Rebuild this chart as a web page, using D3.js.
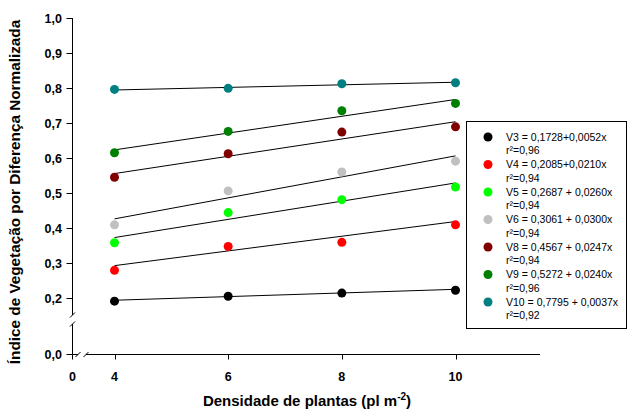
<!DOCTYPE html>
<html>
<head>
<meta charset="utf-8">
<script src="https://cdn.jsdelivr.net/npm/d3@7"></script>
<style>
  body { margin: 0; background: #fff; }
  svg { font-family: Arial, "Liberation Sans", sans-serif; }
</style>
</head>
<body>
<div id="chart"></div>
<script>
var width = 628, height = 414;

// densities (x)
var densities = [4, 6, 8, 10];
var xTicks = [4, 6, 8, 10];
var yTicks = [0.2, 0.3, 0.4, 0.5, 0.6, 0.7, 0.8, 0.9, 1.0];

// series
var seriesNames = ["V3", "V4", "V5", "V6", "V8", "V9", "V10"];
var seriesColors = ["#000000", "#ff0000", "#00ff00", "#c0c0c0", "#800000", "#008000", "#008080"];
var V3 = [0.191, 0.205, 0.214, 0.222];
var V4 = [0.279, 0.347, 0.359, 0.409];
var V5 = [0.358, 0.444, 0.481, 0.517];
var V6 = [0.409, 0.506, 0.560, 0.591];
var V8 = [0.545, 0.612, 0.674, 0.689];
var V9 = [0.615, 0.676, 0.735, 0.756];
var V10 = [0.796, 0.799, 0.812, 0.815];
var seriesValues = [V3, V4, V5, V6, V8, V9, V10];

// regression fits from the legend
var intercepts = [0.1728, 0.2085, 0.2687, 0.3061, 0.4567, 0.5272, 0.7795];
var slopes = [0.0052, 0.0210, 0.0260, 0.0300, 0.0247, 0.0240, 0.0037];
var legendEq = ["V3 = 0,1728+0,0052x", "V4 = 0,2085+0,0210x", "V5 = 0,2687 + 0,0260x",
                "V6 = 0,3061 + 0,0300x", "V8 = 0,4567 + 0,0247x", "V9 = 0,5272 + 0,0240x",
                "V10 = 0,7795 + 0,0037x"];
var legendR2 = ["r²=0,96", "r²=0,94", "r²=0,94", "r²=0,94", "r²=0,94", "r²=0,96", "r²=0,92"];

var svg = d3.select("#chart").append("svg")
    .attr("width", width)
    .attr("height", height);

var x = d3.scaleLinear().domain([4, 10]).range([114.5, 455.5]);
var y = d3.scaleLinear().domain([0.2, 1.0]).range([298, 18]);
var axisX = 72.5, axisY = 354.5, axisRight = 540;
var fmt = function(v) { return d3.format(".1f")(v).replace(".", ","); };
var tickFont = 12.5;

var axes = svg.append("g").attr("stroke", "#000").attr("stroke-width", 1).attr("fill", "none");

// y axis (broken)
axes.append("line").attr("x1", axisX).attr("x2", axisX).attr("y1", y(1.0)).attr("y2", 315);
axes.append("line").attr("x1", axisX).attr("x2", axisX).attr("y1", 324).attr("y2", axisY);
axes.append("line").attr("x1", axisX - 2.5).attr("x2", axisX + 2.5).attr("y1", 317.5).attr("y2", 312.5);
axes.append("line").attr("x1", axisX - 2.5).attr("x2", axisX + 2.5).attr("y1", 326.5).attr("y2", 321.5);

// x axis (broken)
axes.append("line").attr("x1", axisX).attr("x2", 78).attr("y1", axisY).attr("y2", axisY);
axes.append("line").attr("x1", 86).attr("x2", axisRight).attr("y1", axisY).attr("y2", axisY);
axes.append("line").attr("x1", 75.5).attr("x2", 80.5).attr("y1", axisY + 2.5).attr("y2", axisY - 2.5);
axes.append("line").attr("x1", 83.5).attr("x2", 88.5).attr("y1", axisY + 2.5).attr("y2", axisY - 2.5);

// y ticks
var yt = svg.append("g");
yTicks.forEach(function(t) {
  yt.append("line").attr("x1", axisX - 6).attr("x2", axisX).attr("y1", Math.round(y(t)) + 0.5)
    .attr("y2", Math.round(y(t)) + 0.5).attr("stroke", "#000");
  yt.append("text").attr("x", 62).attr("y", y(t) + 4.5).attr("text-anchor", "end")
    .attr("font-size", tickFont).attr("font-weight", "bold").text(fmt(t));
});
yt.append("line").attr("x1", axisX - 6).attr("x2", axisX).attr("y1", axisY).attr("y2", axisY).attr("stroke", "#000");
yt.append("text").attr("x", 62).attr("y", axisY + 4.5).attr("text-anchor", "end")
  .attr("font-size", tickFont).attr("font-weight", "bold").text("0,0");

// x ticks
var xt = svg.append("g");
xTicks.forEach(function(t) {
  xt.append("line").attr("x1", Math.round(x(t)) + 0.5).attr("x2", Math.round(x(t)) + 0.5)
    .attr("y1", axisY).attr("y2", axisY + 5).attr("stroke", "#000");
  xt.append("text").attr("x", x(t)).attr("y", 381).attr("text-anchor", "middle")
    .attr("font-size", tickFont).attr("font-weight", "bold").text(t);
});
xt.append("line").attr("x1", axisX).attr("x2", axisX).attr("y1", axisY).attr("y2", axisY + 5).attr("stroke", "#000");
xt.append("text").attr("x", axisX).attr("y", 381).attr("text-anchor", "middle")
  .attr("font-size", tickFont).attr("font-weight", "bold").text("0");

// axis titles
var xTitle = svg.append("text").attr("x", 307).attr("y", 406).attr("text-anchor", "middle")
  .attr("font-size", 15).attr("font-weight", "bold");
xTitle.append("tspan").text("Densidade de plantas (pl m");
xTitle.append("tspan").attr("dy", -6).attr("font-size", 10).text("-2");
xTitle.append("tspan").attr("dy", 6).text(")");

svg.append("text").attr("transform", "translate(20,192) rotate(-90)")
  .attr("text-anchor", "middle").attr("font-size", 15.3).attr("font-weight", "bold")
  .text("Índice de Vegetação por Diferença Normalizada");

// regression lines
var plot = svg.append("g");
seriesNames.forEach(function(name, i) {
  plot.append("line")
    .attr("x1", x(4)).attr("x2", x(10))
    .attr("y1", y(intercepts[i] + slopes[i] * 4))
    .attr("y2", y(intercepts[i] + slopes[i] * 10))
    .attr("stroke", "#000").attr("stroke-width", 1);
});

// points
seriesNames.forEach(function(name, i) {
  plot.selectAll(".p" + i)
    .data(seriesValues[i])
    .enter().append("circle")
    .attr("cx", function(d, j) { return x(densities[j]); })
    .attr("cy", function(d) { return y(d); })
    .attr("r", 4.5)
    .attr("fill", seriesColors[i]);
});

// legend
var legend = svg.append("g");
legend.append("rect").attr("x", 466.5).attr("y", 121.5).attr("width", 160).attr("height", 207)
  .attr("fill", "#fff").attr("stroke", "#000");
seriesNames.forEach(function(name, i) {
  var cy = 137 + i * 27.5;
  legend.append("circle").attr("cx", 488).attr("cy", cy).attr("r", 4.5).attr("fill", seriesColors[i]);
  legend.append("text").attr("x", 506).attr("y", cy + 3.5).attr("font-size", 10.5).text(legendEq[i]);
  legend.append("text").attr("x", 506).attr("y", cy + 17).attr("font-size", 10.5).text(legendR2[i]);
});
</script>
</body>
</html>
